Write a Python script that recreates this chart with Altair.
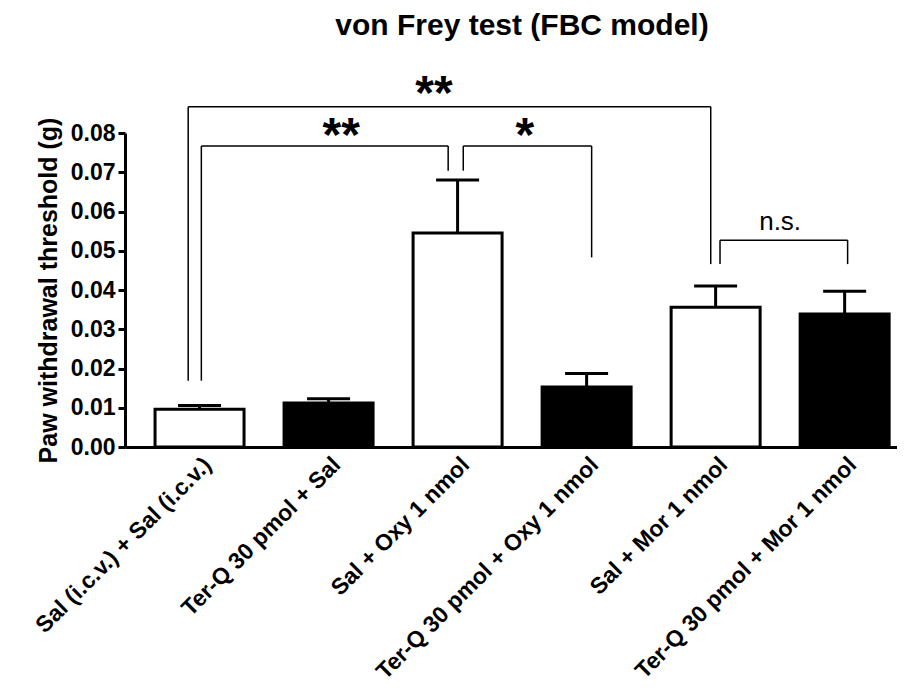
import json
import altair as alt
import pandas as pd

# ---- data ----
groups = [
    "Sal (i.c.v.) + Sal (i.c.v.)",
    "Ter-Q 30 pmol + Sal",
    "Sal + Oxy 1 nmol",
    "Ter-Q 30 pmol + Oxy 1 nmol",
    "Sal + Mor 1 nmol",
    "Ter-Q 30 pmol + Mor 1 nmol",
]
pretreat = ["Saline", "Ter-Q", "Saline", "Ter-Q", "Saline", "Ter-Q"]
means = [0.0096, 0.0112, 0.0545, 0.0153, 0.0356, 0.0339]
sems = [0.0010, 0.0011, 0.0135, 0.0034, 0.0054, 0.0058]
y_ticks = [0.00, 0.01, 0.02, 0.03, 0.04, 0.05, 0.06, 0.07, 0.08]

# significance brackets (x in group-index units, y in g)
br_x1 = [-0.088, 0.014, 2.044, 4.034]
br_x2 = [3.962, 1.927, 3.039, 5.023]
br_top = [0.0867, 0.0767, 0.0767, 0.0527]
br_left_end = [0.0169, 0.0169, 0.0704, 0.0466]
br_right_end = [0.0466, 0.0704, 0.0483, 0.0466]
br_label = ["**", "**", "*", "n.s."]
br_label_x = [1.817, 1.098, 2.521, 4.50]
br_label_y = [0.0862, 0.0755, 0.0755, 0.0553]
br_label_kind = ["star", "star", "star", "ns"]

FONT = "Liberation Sans"

bars = pd.DataFrame({
    "idx": list(range(len(groups))),
    "group": groups,
    "pretreat": pretreat,
    "mean": means,
    "upper": [m + s for m, s in zip(means, sems)],
})

segs = []
for a, b, t, l, r in zip(br_x1, br_x2, br_top, br_left_end, br_right_end):
    segs.append({"x": a, "x2": a, "y": l, "y2": t})
    segs.append({"x": a, "x2": b, "y": t, "y2": t})
    segs.append({"x": b, "x2": b, "y": r, "y2": t})
seg_df = pd.DataFrame(segs)

lab_df = pd.DataFrame({"x": br_label_x, "y": br_label_y, "label": br_label,
                       "kind": br_label_kind})

xscale = alt.Scale(domain=[-0.539, 5.367], nice=False, zero=False)
yscale = alt.Scale(domain=[0, 0.08], nice=False)

label_expr = "%s[datum.value]" % json.dumps(groups)

x_axis = alt.Axis(
    values=list(range(len(groups))), labelExpr=label_expr, title=None,
    ticks=False, grid=False, domainWidth=3, domainColor="black",
    labelAngle=-45, labelAlign="right", labelBaseline="top", labelPadding=6,
    labelFontSize=23, labelFont=FONT, labelFontWeight="bold", labelColor="black",
    labelOverlap=False, labelBound=False, labelLimit=0,
)
y_axis = alt.Axis(
    values=y_ticks, format=".2f",
    title="Paw withdrawal threshold (g)", grid=False,
    domainWidth=3, domainColor="black", tickWidth=3, tickSize=7, tickColor="black",
    labelFontSize=23, labelFont=FONT, labelFontWeight="bold", labelColor="black",
    labelPadding=3, labelOverlap=False, labelBound=False,
    titleFontSize=25, titleFont=FONT, titleFontWeight="bold",
    titleColor="black", titlePadding=9,
)


def X(field):
    return alt.X(field, scale=xscale, axis=x_axis)


def Y(field):
    return alt.Y(field, scale=yscale, axis=y_axis)


base = alt.Chart(bars)

bar = base.mark_bar(size=89, stroke="black", strokeWidth=3, opacity=1).encode(
    x=X("idx:Q"),
    y=Y("mean:Q"),
    fill=alt.Fill("pretreat:N", scale=alt.Scale(domain=["Saline", "Ter-Q"],
                                                range=["white", "black"]), legend=None),
    tooltip=["group", "mean"],
)

err = base.mark_rule(color="black", strokeWidth=3, opacity=1).encode(
    x=X("idx:Q"), y=Y("mean:Q"), y2="upper:Q",
)
cap = base.mark_tick(color="black", orient="horizontal", size=43, thickness=3,
                     opacity=1).encode(
    x=X("idx:Q"), y=Y("upper:Q"),
)

brackets = alt.Chart(seg_df).mark_rule(color="black", strokeWidth=1.5).encode(
    x=X("x:Q"), x2="x2:Q", y=Y("y:Q"), y2="y2:Q",
)

stars = alt.Chart(lab_df).transform_filter("datum.kind == 'star'").mark_text(
    font=FONT, fontSize=48, fontWeight="bold", color="black",
    align="center", baseline="alphabetic",
).encode(x=X("x:Q"), y=Y("y:Q"), text="label:N")

ns = alt.Chart(lab_df).transform_filter("datum.kind == 'ns'").mark_text(
    font=FONT, fontSize=26, color="black", align="center", baseline="alphabetic",
).encode(x=X("x:Q"), y=Y("y:Q"), text="label:N")

chart = alt.layer(bar, err, cap, brackets, stars, ns).properties(
    width=772, height=314,
    title=alt.TitleParams("von Frey test (FBC model)", fontSize=30, fontWeight="bold",
                          font=FONT, color="black", anchor="middle", dx=11, offset=30),
    autosize=alt.AutoSizeParams(type="none"),
    padding={"left": 117, "top": 125, "right": 0, "bottom": 239},
).configure_view(stroke=None)

chart.save("out.html", embed_options={"renderer": "svg", "actions": False})
